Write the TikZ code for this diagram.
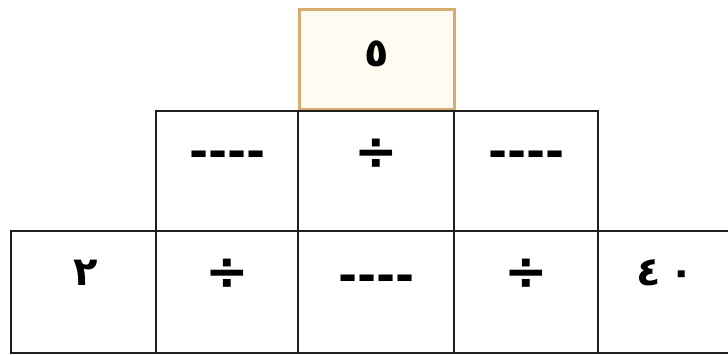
\documentclass[tikz,border=0pt]{standalone}
\usepackage{fontspec}
\TeXXeTstate=1
\newfontfamily\arabicfont[Script=Arabic]{DejaVu Sans}
\newfontfamily\symfont{DejaVu Sans}
\definecolor{topedge}{RGB}{214,172,112}
\definecolor{topfill}{RGB}{255,251,240}
\definecolor{gridline}{RGB}{30,30,30}
\begin{document}
\begin{tikzpicture}[x=1pt,y=-1pt,
  cell/.style={draw=gridline,line width=2.4pt,minimum height=#1,inner sep=0pt,anchor=north west},
  topcell/.style={draw=topedge,fill=topfill,line width=2.8pt,inner sep=0pt,anchor=north west},
  digit/.style={font=\arabicfont\bfseries\fontsize{40}{46}\selectfont,inner sep=0pt},
  opsym/.style={font=\symfont\bfseries\fontsize{52}{56}\selectfont,inner sep=0pt},
  blank/.style={font=\symfont\bfseries\fontsize{46}{50}\selectfont,inner sep=0pt}]
\useasboundingbox (0,0) rectangle (728,355);
\begin{scope}
\clip (0,0) rectangle (728,355);
% top
\node[topcell,minimum width=155pt,minimum height=100pt] (t) at (298,8) {};
% middle row
\node[cell=120pt,minimum width=142pt] (m1) at (155,110) {};
\node[cell=120pt,minimum width=156pt] (m2) at (297,110) {};
\node[cell=120pt,minimum width=144pt] (m3) at (453,110) {};
% bottom row
\node[cell=122pt,minimum width=145pt] (b1) at (10,230) {};
\node[cell=122pt,minimum width=142pt] (b2) at (155,230) {};
\node[cell=122pt,minimum width=156pt] (b3) at (297,230) {};
\node[cell=122pt,minimum width=144pt] (b4) at (453,230) {};
\node[cell=122pt,minimum width=150pt] (b5) at (597,230) {};
\end{scope}
% texts
\node[digit] (tt) at ([yshift=6pt]t.center) {٥};
\node[blank] (m1t) at ([yshift=12pt]m1.center) {----};
\node[opsym] (m2t) at ([yshift=17pt]m2.center) {÷};
\node[blank] (m3t) at ([yshift=12pt]m3.center) {----};
\node[digit] (b1t) at ([xshift=2pt,yshift=19pt]b1.center) {٢};
\node[opsym] (b2t) at ([yshift=18pt]b2.center) {÷};
\node[blank] (b3t) at ([yshift=9pt]b3.center) {----};
\node[opsym] (b4t) at ([yshift=18pt]b4.center) {÷};
\node[digit] (b5t) at ([xshift=-8pt,yshift=19pt]b5.center) {٤\kern8pt ٠};
\end{tikzpicture}
\end{document}
